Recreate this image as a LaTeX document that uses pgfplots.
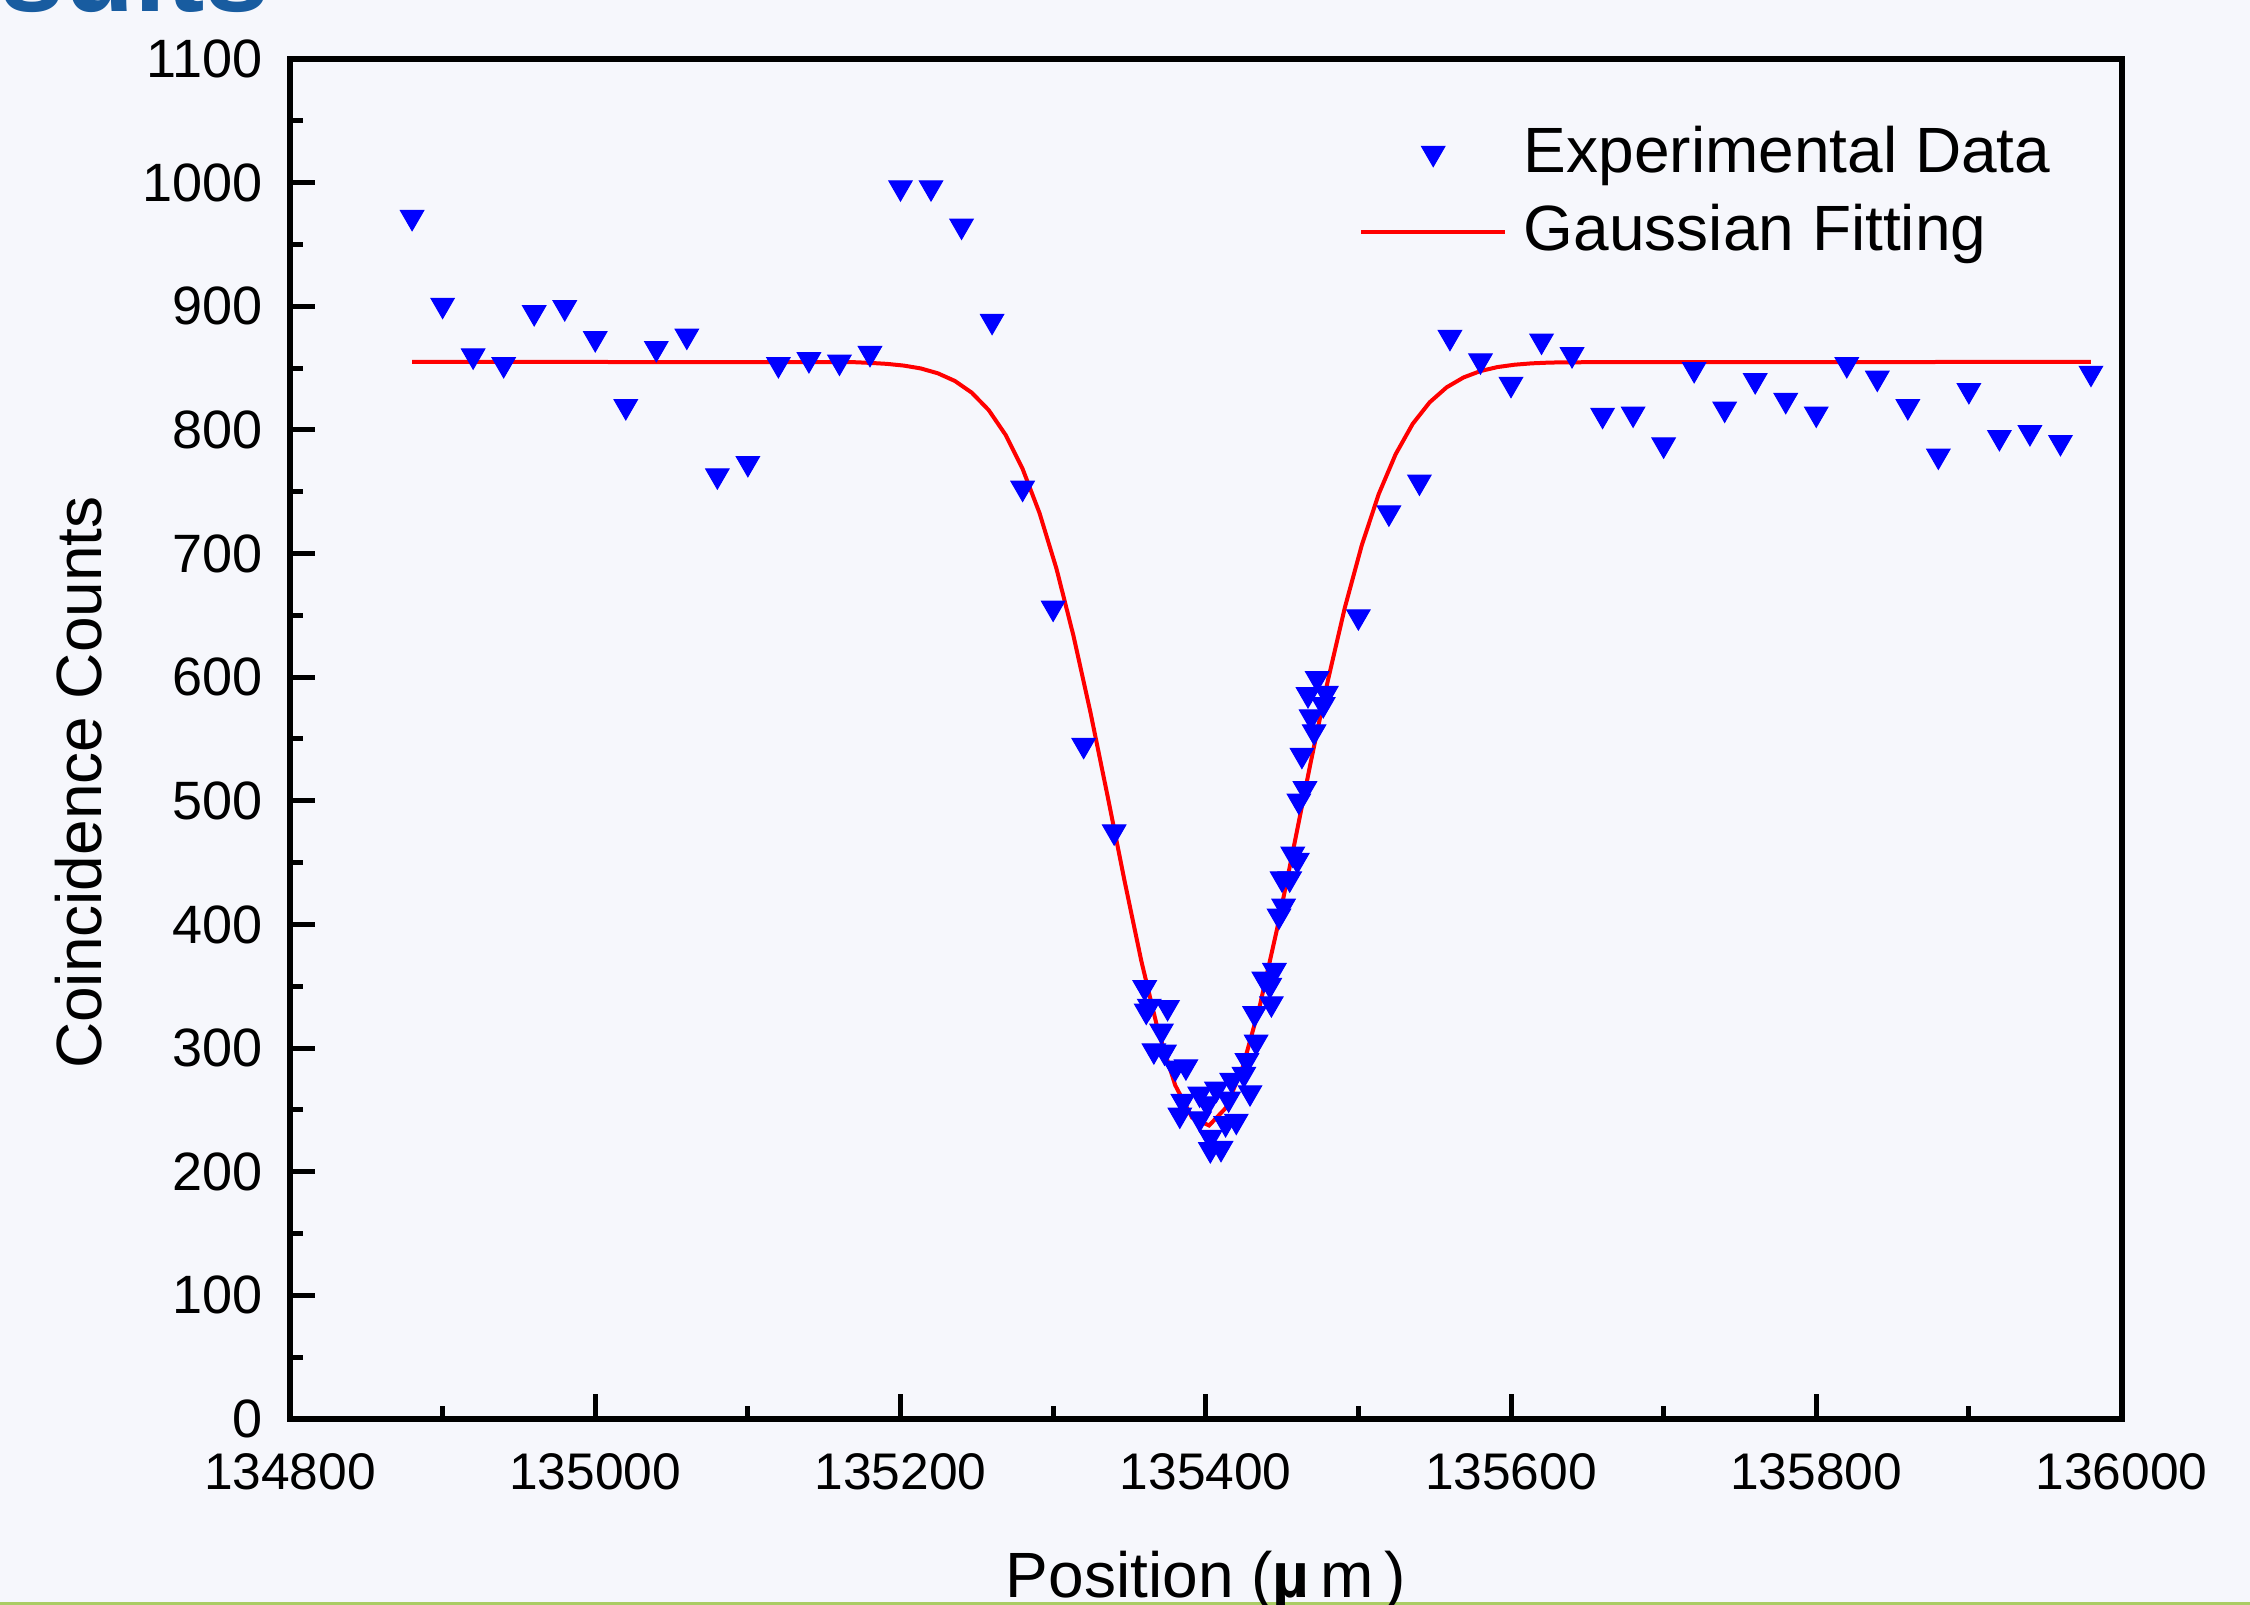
\documentclass[border=0pt]{standalone}
\usepackage{fontspec}
\setmainfont{Liberation Sans}
\usepackage{pgfplots}
\pgfplotsset{compat=1.18}
\definecolor{bgc}{RGB}{246,247,252}
\definecolor{ttl}{RGB}{24,92,160}
\definecolor{barline}{RGB}{170,204,100}

\pgfplotsset{
  dotlegend/.style={legend image code/.code={\draw[#1] plot coordinates {(14.35pt,0pt)};}},
  linelegend/.style={legend image code/.code={\draw[#1] (0pt,0pt) -- (28.7pt,0pt);}},
}

\pgfplotstableread{
x y
134880 972
134900 901
134920 860
134940 853
134960 895
134980 899
135000 874
135020 819
135040 866
135060 876
135080 763
135100 773
135120 853
135140 857
135160 855
135180 862
135200 996
135220 996
135240 965
135260 888
135280 753
135300 656
135320 545
135340 475
135360 349
135361 330
135363 334
135366 298
135371 314
135373 297
135375 333
135380 284
135383 246
135385 257
135387 285
135396 263
135396 243
135401 255
135403 228
135403 218
135407 267
135410 219
135413 239
135415 259
135417 274
135420 241
135425 279
135427 290
135429 264
135432 328
135433 305
135438 356
135442 351
135443 336
135445 363
135448 407
135450 437
135451 415
135455 437
135457 457
135460 452
135461 500
135463 537
135465 510
135467 586
135469 568
135471 556
135473 599
135477 578
135479 587
135500 649
135520 733
135540 758
135560 875
135580 856
135600 837
135620 872
135640 861
135660 812
135680 813
135700 788
135720 849
135740 817
135760 840
135780 824
135800 813
135820 853
135840 842
135860 819
135880 779
135900 832
135920 794
135940 798
135960 790
135980 846
}\expdata

\pgfplotstableread{
x y
134880 855
135168.9 854.8
135180.0 854.2
135191.1 853.4
135202.2 852.0
135213.3 849.7
135224.4 845.8
135235.6 839.6
135246.7 830.1
135257.8 816.0
135268.9 795.9
135280.0 768.5
135291.1 732.7
135302.2 687.7
135313.3 633.6
135324.4 571.9
135335.6 504.3
135346.7 435.8
135357.8 370.4
135368.9 313.4
135380.0 269.9
135391.1 243.7
135402.2 237.4
135413.3 251.8
135424.4 285.3
135435.6 335.2
135446.7 396.2
135457.8 463.4
135468.9 531.9
135480.0 597.2
135491.1 656.1
135502.2 706.6
135513.3 748.0
135524.4 780.3
135535.6 804.9
135546.7 822.3
135557.8 834.4
135568.9 842.4
135580.0 847.6
135591.1 850.8
135602.2 852.7
135613.3 853.8
135624.4 854.4
135635.6 854.7
135980 855
}\fitdata

\begin{document}
\begin{tikzpicture}
\useasboundingbox (0,0) rectangle (450pt,321pt);
\clip (0,0) rectangle (450pt,321pt);
\fill[bgc] (0,0) rectangle (450pt,321pt);
\fill[barline] (0,0) rectangle (450pt,0.5pt);
\node[anchor=base east, text=ttl, font=\bfseries\fontsize{23}{26}\selectfont, inner sep=0pt] at (54pt,318.7pt) {Results};
\begin{axis}[
  at={(58pt,37.2pt)}, anchor=south west,
  scale only axis, width=366.3pt, height=272pt,
  xmin=134800, xmax=136000, ymin=0, ymax=1100,
  xtick={134800,135000,135200,135400,135600,135800,136000},
  ytick={0,100,200,300,400,500,600,700,800,900,1000,1100},
  minor x tick num=1, minor y tick num=1,
  tick align=inside, tick pos=left,
  major tick length=5pt, minor tick length=2.6pt,
  every tick/.style={black, line width=1pt},
  axis line style={line width=1.2pt},
  scaled x ticks=false, scaled y ticks=false,
  /pgf/number format/assume math mode=true,
  /pgf/number format/1000 sep={},
  tick label style={font=\fontsize{10.8}{12}\selectfont},
  xticklabel style={/pgf/number format/fixed, /pgf/number format/precision=0,
    yshift=-3.4pt, font=\fontsize{10.3}{12}\selectfont},
  yticklabel style={xshift=-2pt},
  xlabel={Position (\textbf{µ}\,m\,)},
  ylabel={Coincidence Counts},
  label style={font=\fontsize{12.8}{15}\selectfont},
  xlabel style={at={(axis description cs:0.5,0)}, anchor=base, yshift=-35.8pt},
  ylabel style={at={(axis description cs:-0.1152,0.468)}, anchor=center},
  legend style={draw=none, fill=none, at={(axis description cs:0.5752,0.966)},
    anchor=north west, font=\fontsize{12.8}{15}\selectfont,
    nodes={inner sep=2pt}, row sep=0.9pt,
    /tikz/every odd column/.append style={column sep=1.4pt}},
  legend cell align=left,
]
\addplot[only marks, mark=triangle*, mark size=2.7pt,
  mark options={rotate=180, fill=blue, draw=blue, line width=0.2pt},
  dotlegend]
  table[x=x, y=y] {\expdata};
\addlegendentry{Experimental Data}
\addplot[red, line width=0.8pt, no marks, linelegend]
  table[x=x, y=y] {\fitdata};
\addlegendentry{Gaussian Fitting}
\end{axis}
\end{tikzpicture}
\end{document}
